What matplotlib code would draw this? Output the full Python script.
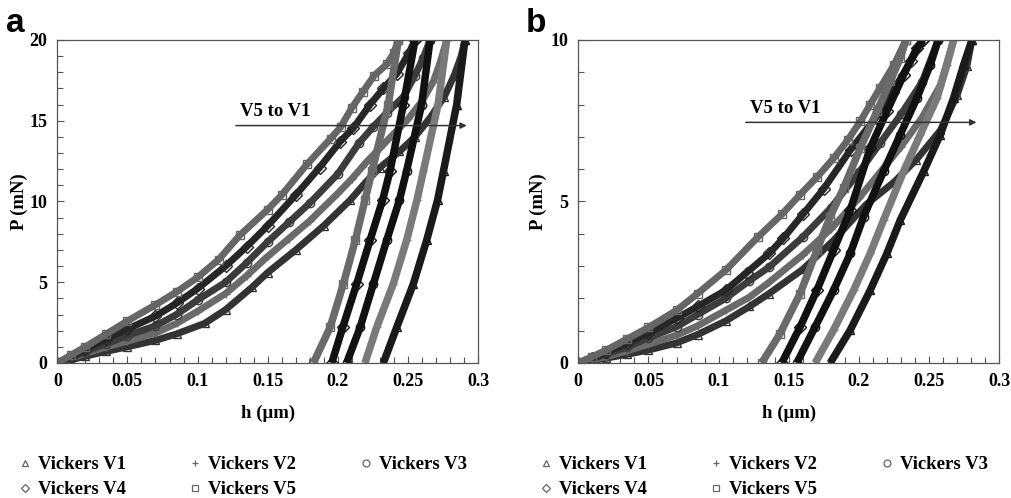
import numpy as np
import matplotlib.pyplot as plt
from matplotlib.ticker import MultipleLocator, FormatStrFormatter

# ---------------- panel a : 20 mN ----------------
# loading branches (h in um, P in mN)
a_v5_load_h = [0, 0.01, 0.02, 0.035, 0.05, 0.07, 0.085, 0.10, 0.115, 0.13, 0.15, 0.16, 0.178, 0.195, 0.202, 0.210, 0.218, 0.226, 0.235, 0.240, 0.2432]
a_v5_load_p = [0, 0.5, 1.0, 1.8, 2.6, 3.6, 4.4, 5.3, 6.4, 7.9, 9.5, 10.4, 12.3, 13.9, 14.6, 15.8, 16.8, 17.8, 18.5, 19.2, 20.0]
a_v4_load_h = [0, 0.01, 0.02, 0.035, 0.05, 0.07, 0.085, 0.10, 0.12, 0.135, 0.15, 0.17, 0.187, 0.2016, 0.2111, 0.223, 0.2325, 0.242, 0.2508, 0.2551]
a_v4_load_p = [0, 0.4, 0.85, 1.5, 2.1, 2.9, 3.7, 4.6, 6.0, 7.2, 8.5, 10.4, 12.1, 13.7, 14.55, 16.0, 17.0, 17.9, 19.2, 20.0]
a_v3_load_h = [0, 0.01, 0.02, 0.035, 0.05, 0.07, 0.085, 0.10, 0.12, 0.135, 0.15, 0.165, 0.18, 0.20, 0.215, 0.225, 0.235, 0.247, 0.255, 0.261, 0.2658]
a_v3_load_p = [0, 0.35, 0.7, 1.2, 1.7, 2.3, 3.0, 3.9, 5.0, 6.2, 7.5, 8.7, 9.9, 11.7, 13.6, 14.6, 15.5, 16.5, 17.8, 18.9, 20.0]
a_v2_load_h = [0, 0.01, 0.02, 0.035, 0.05, 0.07, 0.085, 0.10, 0.12, 0.135, 0.15, 0.165, 0.18, 0.20, 0.21, 0.22, 0.23, 0.24, 0.25, 0.26, 0.268, 0.273, 0.2777]
a_v2_load_p = [0, 0.3, 0.6, 1.0, 1.35, 1.85, 2.45, 3.2, 4.3, 5.4, 6.6, 7.7, 8.8, 10.5, 11.4, 12.4, 13.3, 14.2, 15.1, 16.2, 17.4, 18.6, 20.0]
a_v1_load_h = [0, 0.01, 0.02, 0.035, 0.05, 0.07, 0.085, 0.105, 0.12, 0.139, 0.15, 0.17, 0.19, 0.209, 0.22, 0.23, 0.244, 0.255, 0.266, 0.276, 0.283, 0.288, 0.2907]
a_v1_load_p = [0, 0.2, 0.42, 0.72, 1.0, 1.4, 1.8, 2.45, 3.3, 4.7, 5.6, 7.0, 8.5, 10.1, 11.2, 12.1, 13.1, 14.0, 15.2, 16.5, 17.8, 19.0, 20.0]

# unloading branches
a_unload_p = [20.0, 16.0, 11.9, 10.1, 7.6, 4.9, 2.2, 0]
a_v5_unload_h = [0.2432, 0.2360, 0.2245, 0.2194, 0.2125, 0.2040, 0.1945, 0.1826]
a_v4_unload_h = [0.2551, 0.2468, 0.2373, 0.2320, 0.2230, 0.2135, 0.2035, 0.1957]
a_v3_unload_h = [0.2658, 0.2598, 0.2491, 0.2440, 0.2349, 0.2254, 0.2159, 0.2063]
a_v2_unload_h = [0.2777, 0.2715, 0.2611, 0.2565, 0.2491, 0.2396, 0.2277, 0.2194]
a_v1_unload_h = [0.2907, 0.2848, 0.2754, 0.2712, 0.2634, 0.2539, 0.2420, 0.2325]

# ---------------- panel b : 10 mN ----------------
b_v5_load_h = [0, 0.01, 0.02, 0.035, 0.05, 0.07, 0.085, 0.105, 0.128, 0.145, 0.158, 0.17, 0.182, 0.192, 0.201, 0.208, 0.215, 0.225, 0.2335]
b_v5_load_p = [0, 0.2, 0.4, 0.75, 1.1, 1.63, 2.15, 2.87, 3.9, 4.6, 5.21, 5.75, 6.34, 6.9, 7.48, 8.0, 8.51, 9.23, 10.0]
b_v4_load_h = [0, 0.01, 0.02, 0.035, 0.05, 0.07, 0.085, 0.105, 0.12, 0.136, 0.146, 0.16, 0.175, 0.194, 0.212, 0.224, 0.237, 0.2455]
b_v4_load_p = [0, 0.17, 0.34, 0.62, 0.93, 1.38, 1.75, 2.25, 2.8, 3.39, 3.86, 4.6, 5.4, 6.6, 7.6, 8.4, 9.35, 10.0]
b_v3_load_h = [0, 0.01, 0.02, 0.035, 0.05, 0.07, 0.085, 0.105, 0.122, 0.136, 0.16, 0.18, 0.20, 0.215, 0.23, 0.245, 0.2565]
b_v3_load_p = [0, 0.13, 0.27, 0.5, 0.78, 1.12, 1.5, 2.0, 2.55, 2.97, 3.9, 4.8, 5.9, 6.8, 7.7, 8.7, 10.0]
b_v2_load_h = [0, 0.01, 0.02, 0.035, 0.05, 0.07, 0.085, 0.105, 0.122, 0.136, 0.16, 0.18, 0.20, 0.215, 0.23, 0.245, 0.258, 0.2675]
b_v2_load_p = [0, 0.1, 0.2, 0.38, 0.58, 0.86, 1.15, 1.63, 2.04, 2.5, 3.35, 4.15, 5.1, 5.9, 6.7, 7.6, 8.6, 10.0]
b_v1_load_h = [0, 0.01, 0.02, 0.035, 0.05, 0.07, 0.085, 0.105, 0.122, 0.136, 0.16, 0.182, 0.205, 0.225, 0.241, 0.258, 0.27, 0.277, 0.2805]
b_v1_load_p = [0, 0.07, 0.15, 0.27, 0.4, 0.62, 0.88, 1.3, 1.75, 2.15, 2.9, 3.8, 4.9, 5.6, 6.3, 7.2, 8.3, 9.2, 10.0]

b_v5_unload_h = [0.2335, 0.2294, 0.2223, 0.2128, 0.2009, 0.1890, 0.1795, 0.1700, 0.1581, 0.1438, 0.1307]
b_v5_unload_p = [10.0, 9.44, 8.72, 7.79, 6.65, 5.41, 4.53, 3.49, 2.15, 0.91, 0]
b_v4_unload_h = [0.2455, 0.2413, 0.2318, 0.2199, 0.2080, 0.1938, 0.1819, 0.1700, 0.1581, 0.1450]
b_v4_unload_p = [10.0, 9.75, 8.92, 7.79, 6.65, 4.73, 3.49, 2.25, 1.12, 0]
b_v3_unload_h = [0.2565, 0.2508, 0.2413, 0.2294, 0.2175, 0.2033, 0.1938, 0.1819, 0.1688, 0.1557]
b_v3_unload_p = [10.0, 9.23, 8.2, 7.07, 5.93, 4.53, 3.39, 2.25, 1.12, 0]
b_v2_unload_h = [0.2675, 0.2627, 0.2556, 0.2437, 0.2318, 0.2175, 0.2080, 0.1962, 0.1819, 0.1688]
b_v2_unload_p = [10.0, 9.23, 8.2, 7.07, 5.93, 4.42, 3.39, 2.25, 1.02, 0]
b_v1_unload_h = [0.2805, 0.2746, 0.2674, 0.2580, 0.2461, 0.2294, 0.2199, 0.2080, 0.1938, 0.1795]
b_v1_unload_p = [10.0, 9.23, 8.2, 7.07, 5.93, 4.42, 3.39, 2.25, 1.02, 0]

labels = ['Vickers V1', 'Vickers V2', 'Vickers V3', 'Vickers V4', 'Vickers V5']
markers = {'V1': '^', 'V2': '+', 'V3': 'o', 'V4': 'D', 'V5': 's'}
load_col = {'V1': '#333333', 'V2': '#6a6a6a', 'V3': '#3c3c3c', 'V4': '#262626', 'V5': '#666666'}
unload_col = {'V1': '#1a1a1a', 'V2': '#7a7a7a', 'V3': '#111111', 'V4': '#111111', 'V5': '#6a6a6a'}

SERIF = 'Liberation Serif'
plt.rcParams['font.family'] = SERIF
plt.rcParams['font.weight'] = 'bold'

fig = plt.figure(figsize=(10.11, 4.98), dpi=100)
ax_a = fig.add_axes([0.0567, 0.2711, 0.4161, 0.6486])
ax_b = fig.add_axes([0.5720, 0.2711, 0.4164, 0.6486])


def draw(ax, key, lh, lp, uh, up):
    m = markers[key]
    ax.plot(lh, lp, '-', color=load_col[key], lw=5.0, marker=m, ms=6,
            mfc='none', mec=load_col[key], mew=1, solid_capstyle='butt')
    ax.plot(uh, up, '-', color=unload_col[key], lw=5.4, marker=m, ms=6,
            mfc='none', mec=unload_col[key], mew=1, solid_capstyle='butt')


draw(ax_a, 'V1', a_v1_load_h, a_v1_load_p, a_v1_unload_h, a_unload_p)
draw(ax_a, 'V2', a_v2_load_h, a_v2_load_p, a_v2_unload_h, a_unload_p)
draw(ax_a, 'V3', a_v3_load_h, a_v3_load_p, a_v3_unload_h, a_unload_p)
draw(ax_a, 'V4', a_v4_load_h, a_v4_load_p, a_v4_unload_h, a_unload_p)
draw(ax_a, 'V5', a_v5_load_h, a_v5_load_p, a_v5_unload_h, a_unload_p)

draw(ax_b, 'V1', b_v1_load_h, b_v1_load_p, b_v1_unload_h, b_v1_unload_p)
draw(ax_b, 'V2', b_v2_load_h, b_v2_load_p, b_v2_unload_h, b_v2_unload_p)
draw(ax_b, 'V3', b_v3_load_h, b_v3_load_p, b_v3_unload_h, b_v3_unload_p)
draw(ax_b, 'V4', b_v4_load_h, b_v4_load_p, b_v4_unload_h, b_v4_unload_p)
draw(ax_b, 'V5', b_v5_load_h, b_v5_load_p, b_v5_unload_h, b_v5_unload_p)

for ax, ymax, ypad in ((ax_a, 20, 1.5), (ax_b, 10, 2.5)):
    ax.set_xlim(0, 0.3)
    ax.set_ylim(0, ymax)
    ax.xaxis.set_major_locator(MultipleLocator(0.05))
    ax.xaxis.set_minor_locator(MultipleLocator(0.01))
    ax.xaxis.set_major_formatter(FormatStrFormatter('%g'))
    ax.yaxis.set_major_locator(MultipleLocator(5))
    ax.yaxis.set_minor_locator(MultipleLocator(1))
    ax.tick_params(which='both', direction='in', top=False, right=False,
                   color='#555555', width=0.8)
    ax.tick_params(which='major', length=5, labelsize=13, pad=7)
    ax.tick_params(which='minor', length=4)
    for lab in ax.get_xticklabels() + ax.get_yticklabels():
        lab.set_fontweight('bold')
    for sp in ax.spines.values():
        sp.set_color('#555555')
        sp.set_linewidth(0.9)
    ax.set_xlabel('h (\u03bcm)', fontsize=13.5, fontweight='bold', labelpad=11)
    ax.set_ylabel('P (mN)', fontsize=13.5, fontweight='bold', labelpad=ypad)

# "V5 to V1" arrows
ax_a.annotate('', xy=(0.294, 14.7), xytext=(0.1254, 14.7),
              arrowprops=dict(arrowstyle='-|>', color='#333333', lw=1.1, mutation_scale=9))
ax_a.text(0.130, 15.05, 'V5 to V1', fontsize=13.5, fontweight='bold', va='bottom')
ax_b.annotate('', xy=(0.2857, 7.45), xytext=(0.1174, 7.45),
              arrowprops=dict(arrowstyle='-|>', color='#333333', lw=1.1, mutation_scale=9))
ax_b.text(0.1226, 7.62, 'V5 to V1', fontsize=13.5, fontweight='bold', va='bottom')

# panel letters
fig.text(0.006, 0.935, 'a', family='Liberation Sans', fontsize=24, fontweight='bold', va='baseline')
fig.text(0.520, 0.935, 'b', family='Liberation Sans', fontsize=24, fontweight='bold', va='baseline')

# legends drawn in pixel space below each panel
lg = fig.add_axes([0, 0, 1, 1])
lg.set_xlim(0, 1011)
lg.set_ylim(498, 0)
lg.axis('off')
leg_keys = ['V1', 'V2', 'V3', 'V4', 'V5']
leg_x = [25, 195, 366, 25, 195]
leg_y = [463, 463, 463, 488, 488]
for x0 in (0, 521):
    for key, lab, lx, ly in zip(leg_keys, labels, leg_x, leg_y):
        lg.plot([lx + x0], [ly], marker=markers[key], ms=5 if key != 'V4' else 4,
                mfc='none', mec='#666666', mew=0.9, ls='none')
        lg.text(lx + x0 + 13, ly + 1, lab, fontsize=13.5, fontweight='bold',
                va='center', ha='left')

plt.savefig('out.png', dpi=100)
